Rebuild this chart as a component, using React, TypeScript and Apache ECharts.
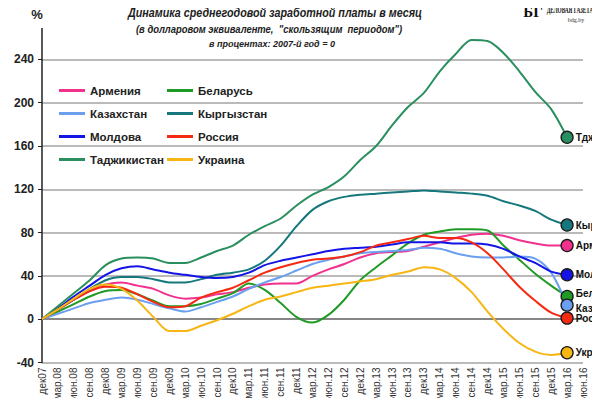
import React, { useEffect, useRef } from 'react';
import * as echarts from 'echarts';

// квартальные метки оси X
const quarters = [
  'дек07', 'мар.08', 'июн.08', 'сен.08', 'дек08', 'мар.09', 'июн.09', 'сен.09',
  'дек09', 'мар.10', 'июн.10', 'сен.10', 'дек10', 'мар.11', 'июн.11', 'сен.11',
  'дек11', 'мар.12', 'июн.12', 'сен.12', 'дек12', 'мар.13', 'июн.13', 'сен.13',
  'дек13', 'мар.14', 'июн.14', 'сен.14', 'дек14', 'мар.15', 'июн.15', 'сен.15',
  'дек15', 'мар.16', 'июн.16',
];

const armenia = [0, 9, 18, 26, 32, 34, 31, 28, 22, 19, 20, 23, 25, 29, 32, 33, 33, 40, 46, 51, 57, 61, 62, 63, 67, 71, 75, 78, 79, 77, 73, 70, 68, 68];
const belarus = [0, 7, 14, 21, 26, 27, 23, 17, 12, 12, 14, 19, 24, 33, 27, 15, 2, -3, 4, 18, 36, 48, 59, 70, 78, 81, 83, 83, 82, 68, 55, 42, 31, 21];
const kazakhstan = [0, 5, 10, 15, 18, 20, 18, 14, 10, 7, 11, 16, 21, 28, 34, 39, 45, 51, 55, 58, 61, 62, 63, 64, 66, 65, 61, 58, 57, 57, 58, 56, 43, 13];
const kyrgyzstan = [0, 9, 18, 28, 36, 39, 39, 37, 34, 34, 37, 41, 43, 46, 54, 68, 86, 101, 109, 113, 115, 116, 117, 118, 119, 118, 117, 116, 114, 109, 105, 100, 92, 87];
const moldova = [0, 10, 21, 31, 41, 47, 49, 46, 43, 41, 39, 38, 39, 43, 50, 54, 57, 60, 63, 65, 66, 67, 69, 71, 71, 71, 70, 70, 69, 65, 58, 52, 44, 41];
const russia = [0, 9, 18, 26, 30, 29, 23, 16, 11, 12, 20, 25, 29, 36, 43, 48, 52, 55, 56, 58, 62, 68, 71, 74, 77, 75, 75, 71, 61, 46, 30, 17, 6, 1];
const tajikistan = [0, 12, 24, 36, 50, 56, 57, 56, 52, 52, 57, 63, 68, 78, 86, 93, 105, 115, 122, 132, 147, 160, 179, 196, 209, 229, 245, 258, 257, 246, 229, 210, 194, 168];
const ukraine = [0, 9, 19, 28, 32, 28, 17, 2, -11, -11, -6, -1, 5, 12, 18, 21, 25, 29, 31, 33, 35, 37, 41, 44, 48, 46, 38, 25, 7, -9, -22, -30, -33, -31];

const countries = ['Армения', 'Беларусь', 'Казахстан', 'Кыргызстан', 'Молдова', 'Россия', 'Таджикистан', 'Украина'];
const shortNames = ['Арм', 'Бел', 'Каз', 'Кыр', 'Мол', 'Рос', 'Тдж', 'Укр'];
const values = [armenia, belarus, kazakhstan, kyrgyzstan, moldova, russia, tajikistan, ukraine];
const colors = ['#f2318e', '#1f9a25', '#6b9ff0', '#16787c', '#1414e6', '#f52a12', '#2a8f5e', '#f7b614'];
// сдвиг подписей Бел / Каз, чтобы не наезжали
const labelShift = [0, -3, 3, 0, 0, 0, 0, 0];

const yTicks = [-40, 0, 40, 80, 120, 160, 200, 240];

const FONT = '"Liberation Sans", Arial, sans-serif';
const SERIF = '"Liberation Serif", "DejaVu Serif", serif';

function App() {
  const chartRef = useRef<HTMLDivElement>(null);

  useEffect(() => {
    if (!chartRef.current) return undefined;

    const series = countries.map((name, k) => ({
      name,
      type: 'line',
      symbol: 'none',
      showAllSymbol: true,
      smooth: 0.3,
      clip: false,
      lineStyle: { width: 2, color: colors[k] },
      itemStyle: { color: colors[k] },
      data: values[k].map((v, i, arr) =>
        i === arr.length - 1
          ? {
              value: v,
              symbol: 'circle',
              symbolSize: 12,
              itemStyle: { color: colors[k], borderColor: '#1a1a1a', borderWidth: 1.3 },
              label: {
                show: true,
                position: 'right',
                distance: 2,
                offset: [0, labelShift[k]],
                formatter: shortNames[k],
                fontFamily: FONT,
                fontSize: 10,
                fontWeight: 'bold',
                color: '#111',
              },
            }
          : v,
      ),
    }));

    const legendBase = {
      orient: 'vertical',
      top: 84,
      icon: 'rect',
      itemWidth: 26,
      itemHeight: 3,
      itemGap: 10,
      padding: 0,
      selectedMode: false,
      textStyle: { fontFamily: FONT, fontSize: 11.5, fontWeight: 'bold', color: '#222', lineHeight: 13 },
    };

    const option = {
      animation: false,
      backgroundColor: '#fff',
      grid: { left: 42, right: 17, top: 59.4, bottom: 43.5 },
      legend: [
        { ...legendBase, left: 59, data: ['Армения', 'Казахстан', 'Молдова', 'Таджикистан'] },
        { ...legendBase, left: 167, data: ['Беларусь', 'Кыргызстан', 'Россия', 'Украина'] },
      ],
      xAxis: {
        type: 'category',
        data: quarters,
        boundaryGap: false,
        axisLine: { lineStyle: { color: '#9a9a9a', width: 1.5 } },
        axisTick: { show: false },
        axisLabel: { rotate: 90, interval: 0, fontFamily: FONT, fontSize: 10, color: '#333', margin: 5 },
        splitLine: { show: false },
      },
      yAxis: {
        type: 'value',
        min: yTicks[0],
        max: yTicks[yTicks.length - 1],
        interval: 40,
        axisLine: { show: true, lineStyle: { color: '#222', width: 1.5 } },
        axisTick: { show: true, length: 4, lineStyle: { color: '#222' } },
        axisLabel: { fontFamily: FONT, fontSize: 12, fontWeight: 'bold', color: '#222', margin: 8 },
        splitLine: {
          show: true,
          lineStyle: {
            color: yTicks.map((t) => (t === 0 ? '#111' : '#a3a3a3')),
            width: 1.5,
          },
        },
      },
      graphic: [
        { type: 'line', shape: { x1: 42, y1: 28, x2: 42, y2: 60 }, style: { stroke: '#222', lineWidth: 1.5 } },
        { type: 'text', x: 37, y: 14, style: { text: '%', font: `bold 13px ${FONT}`, fill: '#222', align: 'center', verticalAlign: 'middle' } },
        { type: 'text', x: 275, y: 12, scaleX: 0.86, style: { text: 'Динамика среднегодовой заработной платы в месяц', font: `italic bold 12.5px ${FONT}`, fill: '#222', align: 'center', verticalAlign: 'middle' } },
        { type: 'text', x: 269, y: 29, scaleX: 0.9, style: { text: '(в долларовом эквиваленте,  "скользящим  периодом")', font: `italic bold 10.5px ${FONT}`, fill: '#222', align: 'center', verticalAlign: 'middle' } },
        { type: 'text', x: 272, y: 44, scaleX: 0.95, style: { text: 'в процентах: 2007-й год = 0', font: `italic bold 9.5px ${FONT}`, fill: '#222', align: 'center', verticalAlign: 'middle' } },
        // логотип
        { type: 'text', x: 533, y: 12, style: { text: 'БГ', font: `bold 15px ${SERIF}`, fill: '#111', align: 'center', verticalAlign: 'middle' } },
        { type: 'text', x: 570, y: 10, scaleX: 0.7, scaleY: 1.25, style: { text: 'ДЕЛОВАЯ ГАЗЕТА', font: `bold 7.5px ${SERIF}`, fill: '#111', align: 'center', verticalAlign: 'middle' } },
        { type: 'text', x: 576, y: 20, style: { text: 'bdg.by', font: `6px ${SERIF}`, fill: '#333', align: 'center', verticalAlign: 'middle' } },
      ],
      series,
    };

    const myChart = echarts.init(chartRef.current, null, { renderer: 'svg' });
    myChart.setOption(option);

    return () => {
      myChart.dispose();
    };
  }, []);

  return <div ref={chartRef} style={{ width: '600px', height: '406px', margin: '-8px' }} />;
}

export default App;
